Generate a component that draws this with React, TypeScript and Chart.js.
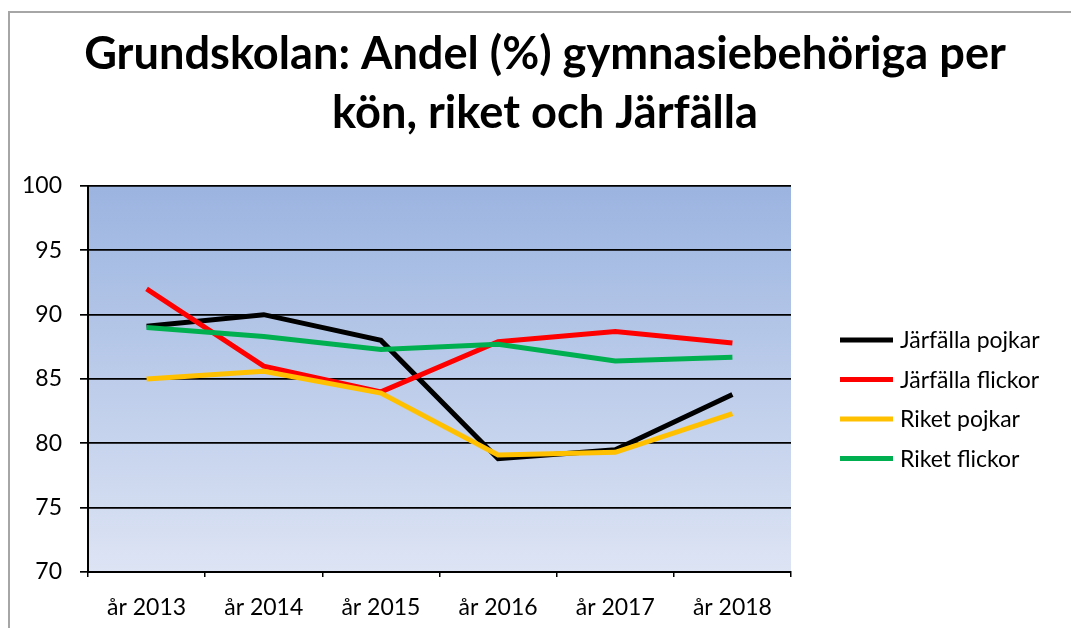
import React, { useEffect, useRef } from "react";
import { Chart, registerables } from "chart.js";

Chart.register(...registerables);

const categories = ["år 2013", "år 2014", "år 2015", "år 2016", "år 2017", "år 2018"];
const jarfallaPojkar = [89.1, 90.0, 88.0, 78.8, 79.5, 83.8];
const jarfallaFlickor = [92.0, 86.0, 84.0, 87.9, 88.7, 87.8];
const riketPojkar = [85.0, 85.6, 83.9, 79.1, 79.3, 82.3];
const riketFlickor = [89.0, 88.3, 87.3, 87.7, 86.4, 86.7];
const seriesLabels = ["Järfälla pojkar", "Järfälla flickor", "Riket pojkar", "Riket flickor"];
const seriesColors = ["#000000", "#FF0000", "#FFC000", "#00B050"];
const titleLines = ["Grundskolan: Andel (%) gymnasiebehöriga per", "kön, riket och Järfälla"];
const FONT = "Lato, 'Open Sans', sans-serif";

const bgPlugin = {
  id: "bgGradient",
  beforeDraw(chart: any) {
    const { ctx, chartArea } = chart;
    if (!chartArea) return;
    const g = ctx.createLinearGradient(0, chartArea.top, 0, chartArea.bottom);
    g.addColorStop(0, "#9BB4E0");
    g.addColorStop(1, "#DDE4F4");
    ctx.save();
    ctx.fillStyle = g;
    ctx.fillRect(chartArea.left, chartArea.top, chartArea.right - chartArea.left, chartArea.bottom - chartArea.top);
    ctx.restore();
  },
};

const titleLegendPlugin = {
  id: "titleLegend",
  afterDraw(chart: any) {
    const ctx = chart.ctx;
    ctx.save();
    ctx.font = `bold 40px ${FONT}`;
    const w = ctx.measureText(titleLines[0]).width;
    const size = (40 * 922) / w;
    ctx.font = `bold ${size}px ${FONT}`;
    ctx.fillStyle = "#000";
    ctx.textAlign = "center";
    ctx.textBaseline = "alphabetic";
    ctx.fillText(titleLines[0], 545, 69);
    ctx.fillText(titleLines[1], 545, 128);
    ctx.textAlign = "left";
    ctx.textBaseline = "middle";
    ctx.font = `23px ${FONT}`;
    chart.data.datasets.forEach((ds: any, i: number) => {
      const y = 340 + i * 39.5;
      ctx.strokeStyle = ds.borderColor;
      ctx.lineWidth = 5;
      ctx.beginPath();
      ctx.moveTo(840, y);
      ctx.lineTo(893, y);
      ctx.stroke();
      ctx.fillStyle = "#000";
      ctx.fillText(ds.label, 900, y + 1);
    });
    ctx.restore();
  },
};

export default function App() {
  const ref = useRef<HTMLCanvasElement>(null);
  useEffect(() => {
    if (!ref.current) return;
    const seriesData = [jarfallaPojkar, jarfallaFlickor, riketPojkar, riketFlickor];
    const chart = new Chart(ref.current, {
      type: "line",
      data: {
        labels: categories,
        datasets: seriesData.map((d, i) => ({
          label: seriesLabels[i],
          data: d,
          borderColor: seriesColors[i],
          backgroundColor: seriesColors[i],
          borderWidth: 5,
          pointRadius: 0,
          tension: 0,
          fill: false,
          order: 4 - i,
        })),
      },
      options: {
        animation: false,
        responsive: false,
        layout: { padding: { top: 186, right: 280, left: 0, bottom: 0 } },
        plugins: {
          legend: { display: false },
          title: { display: false },
          tooltip: { enabled: false },
        },
        scales: {
          x: {
            offset: true,
            afterFit: (s: any) => {
              s.height = 56;
            },
            grid: {
              offset: true,
              drawOnChartArea: false,
              drawTicks: true,
              tickLength: 5,
              color: "#000",
              lineWidth: 1.5,
            },
            border: { display: true, color: "#000", width: 2 },
            ticks: {
              color: "#000",
              padding: 17,
              maxRotation: 0,
              font: { family: FONT, size: 23 },
            },
          },
          y: {
            min: 70,
            max: 100,
            afterFit: (s: any) => {
              s.width = 88;
            },
            grid: {
              color: "#000",
              lineWidth: 1.7,
              tickLength: 8,
              drawTicks: true,
            },
            border: { display: true, color: "#000", width: 2 },
            ticks: {
              stepSize: 5,
              color: "#000",
              padding: 18,
              font: { family: FONT, size: 23 },
            },
          },
        },
      },
      plugins: [bgPlugin, titleLegendPlugin],
    } as any);
    return () => chart.destroy();
  }, []);

  return (
    <div style={{ position: "fixed", left: 0, top: 0, width: 1071, height: 628, overflow: "hidden", background: "#fff" }}>
      <div
        style={{
          position: "absolute",
          left: 8,
          top: 11,
          width: 1100,
          height: 700,
          border: "2px solid #a6a6a6",
        }}
      />
      <canvas ref={ref} width={1071} height={628} style={{ position: "absolute", left: 0, top: 0 }} />
    </div>
  );
}
